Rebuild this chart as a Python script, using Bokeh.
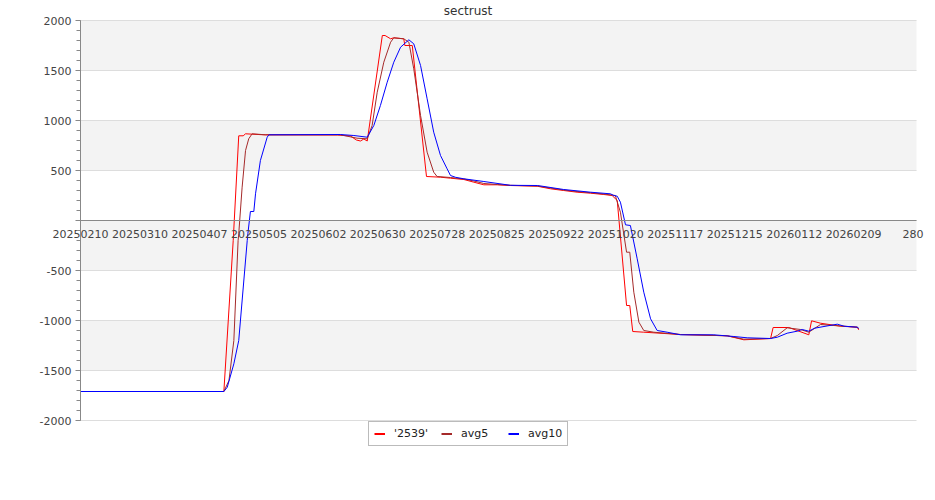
from bokeh.plotting import figure
from bokeh.models import (FixedTicker, LinearAxis, Range1d, Legend, LegendItem, Label)
from bokeh.embed import file_html
from bokeh.resources import INLINE

# ---------------- data (x = days since 2025-02-10) ----------------
tick_days = [0, 28, 56, 84, 112, 140, 168, 196, 224, 252, 280, 308, 336, 364, 392]
tick_labels = ["20250210", "20250310", "20250407", "20250505", "20250602", "20250630",
               "20250728", "20250825", "20250922", "20251020", "20251117", "20251215",
               "20260112", "20260209", "280"]
y_ticks = [-2000, -1500, -1000, -500, 0, 500, 1000, 1500, 2000]
y_tick_labels = ["-2000", "-1500", "-1000", "-500", "", "500", "1000", "1500", "2000"]
band_bottom = [1500, 500, -500, -1500]
band_top = [2000, 1000, 0, -1000]
x_end = 393.6

s2539_day = [0, 67.5, 71.9, 74.5, 76.6, 77.7, 86.3, 121.0, 127.1, 129.9, 131.8, 133.4, 135.0,
             142.1, 143.4, 146.0, 147.4, 152.2, 152.7, 156.2, 162.9, 169.5, 174.2, 180.5,
             185.2, 189.9, 196.2, 202.4, 215.0, 221.3, 227.5, 233.8, 240.1, 246.4, 250.3,
             252.7, 257.1, 258.6, 260.0, 265.2, 282.5, 304.5, 312.3, 324.9, 326.1, 333.5,
             342.9, 344.2, 348.4, 357.8, 365.7, 366.4]
s2539_val = [-1710, -1710, -200, 847, 847, 867, 857, 855, 845, 805, 795, 815, 795,
             1850, 1850, 1817, 1827, 1817, 1750, 1750, 440, 433, 423, 410,
             383, 357, 357, 350, 343, 317, 300, 283, 273, 260, 250,
             200, -850, -850, -1110, -1117, -1140, -1153, -1193, -1180, -1070, -1070,
             -1143, -1003, -1027, -1057, -1067, -1093]

avg5_day = [0, 67.5, 69.9, 72.2, 74.2, 74.5, 76.1, 77.7, 79.2, 80.8, 87.1, 122.4, 130.2, 135.0,
            137.3, 139.7, 142.8, 146.0, 147.5, 152.2, 154.6, 156.9, 160.1, 163.2, 166.3, 167.9,
            174.2, 180.5, 185.2, 189.9, 196.2, 202.4, 215.0, 221.3, 227.5, 233.8, 240.1, 246.4,
            251.8, 254.2, 257.1, 258.6, 260.5, 262.9, 265.2, 269.9, 282.5, 304.5, 312.3, 324.9,
            328.1, 332.7, 339.0, 342.9, 348.4, 354.7, 365.7, 366.4]
avg5_val = [-1710, -1710, -1600, -1200, -200, -133, 333, 700, 817, 867, 857, 857, 823, 817,
            950, 1283, 1583, 1783, 1827, 1817, 1783, 1517, 1050, 683, 483, 440,
            430, 415, 395, 370, 360, 352, 345, 325, 305, 290, 278, 265,
            250, 83, -317, -317, -717, -1017, -1100, -1117, -1140, -1153, -1187, -1180,
            -1150, -1073, -1090, -1117, -1040, -1050, -1067, -1083]

avg10_day = [0, 67.5, 69.1, 72.2, 74.5, 78.5, 78.8, 80.0, 81.6, 82.4, 84.7, 87.9, 88.7,
             122.4, 128.7, 135.0, 138.1, 141.2, 144.4, 147.5, 150.7, 154.6, 156.9, 160.1,
             163.2, 166.3, 169.5, 172.6, 174.2, 176.6, 180.5, 189.9, 202.4, 215.2, 227.5,
             240.1, 249.5, 251.1, 252.7, 254.2, 256.6, 258.9, 262.1, 265.2, 268.4, 271.5,
             276.2, 282.5, 298.2, 307.6, 313.9, 324.9, 328.1, 332.7, 337.4, 339.8, 342.9,
             345.6, 351.9, 356.3, 359.5, 365.7, 366.4]
avg10_val = [-1710, -1710, -1667, -1433, -1200, -200, -133, 90, 90, 267, 600, 833, 857,
             860, 850, 833, 950, 1150, 1383, 1583, 1733, 1807, 1767, 1550,
             1217, 883, 650, 517, 450, 432, 417, 390, 352, 350, 310,
             283, 267, 250, 243, 183, -43, -50, -383, -717, -983, -1100,
             -1117, -1143, -1143, -1160, -1173, -1180, -1167, -1127, -1107, -1090, -1107,
             -1077, -1053, -1037, -1057, -1067, -1077]

series_names = ["'2539'", "avg5", "avg10"]
series_colors = ["#ff0000", "#a52a2a", "#0000ff"]

FONT = "DejaVu Sans"
TXT = "#444444"
AX = "#888888"

W, H = 928, 490
# the frame covers the whole canvas; the ranges map the plotting area to pixels 80..916 x 20..420
PX_PER_DAY = 836 / x_end
x0 = -80 / PX_PER_DAY
x1 = (W - 80) / PX_PER_DAY
y_top = 2000 + 20 * 10
y_bot = -2000 - (H - 420) * 10

p = figure(width=W, height=H, output_backend="svg", toolbar_location=None,
           x_range=Range1d(x0, x1), y_range=Range1d(y_bot, y_top),
           x_axis_type=None, y_axis_type=None, min_border=0)
p.outline_line_color = None
p.background_fill_color = "white"
p.border_fill_color = "white"
p.grid.visible = False

# bands and grid lines of the plotting area
p.quad(left=0, right=x_end, bottom=band_bottom, top=band_top,
       fill_color="#f3f3f3", line_color=None)
p.segment(x0=0, x1=x_end, y0=y_ticks, y1=y_ticks, line_color="#dddddd", line_width=1)

yaxis = LinearAxis(fixed_location=0, bounds=(-2000, 2000),
                   ticker=FixedTicker(ticks=y_ticks, minor_ticks=list(range(-2000, 2001, 100))),
                   major_label_overrides={t: l for t, l in zip(y_ticks, y_tick_labels)})
yaxis.axis_line_color = AX
yaxis.major_tick_line_color = AX
yaxis.minor_tick_line_color = AX
yaxis.major_tick_out = 5
yaxis.major_tick_in = 0
yaxis.minor_tick_out = 4
yaxis.minor_tick_in = 0
yaxis.major_label_standoff = 4
yaxis.major_label_text_font = FONT
yaxis.major_label_text_font_size = "11px"
yaxis.major_label_text_color = TXT
p.add_layout(yaxis, "left")

xaxis = LinearAxis(fixed_location=0, bounds=(0, x_end),
                   ticker=FixedTicker(ticks=tick_days, minor_ticks=[]),
                   major_label_overrides={d: l for d, l in zip(tick_days, tick_labels)})
xaxis.axis_line_color = AX
xaxis.major_tick_line_color = None
xaxis.minor_tick_line_color = None
xaxis.major_tick_out = 0
xaxis.major_tick_in = 0
xaxis.major_label_standoff = 9
xaxis.major_label_text_font = FONT
xaxis.major_label_text_font_size = "11px"
xaxis.major_label_text_color = TXT
p.add_layout(xaxis, "below")

p.line(s2539_day, s2539_val, line_color=series_colors[0], line_width=1)
p.line(avg5_day, avg5_val, line_color=series_colors[1], line_width=1)
p.line(avg10_day, avg10_val, line_color=series_colors[2], line_width=1)

# legend keys (thicker strokes, as in the original legend); their own line lies off-canvas
keys = [p.line(x=[x0 - 50, x0 - 40], y=[0, 0], line_color=c, line_width=2) for c in series_colors]

legend = Legend(items=[LegendItem(label=n, renderers=[k]) for n, k in zip(series_names, keys)],
                orientation="horizontal", location=(368, H - 446),
                padding=5, spacing=13, margin=0, label_standoff=9, label_width=34,
                glyph_width=11, glyph_height=11, label_height=11,
                label_text_font=FONT, label_text_font_size="11px", label_text_color="#222222",
                border_line_color="#777777", border_line_width=1,
                background_fill_color="white", background_fill_alpha=1.0)
p.add_layout(legend, "center")

title = Label(x=467.5, y=H - 10, x_units="screen", y_units="screen", text="sectrust",
              text_align="center", text_baseline="alphabetic",
              text_font=FONT, text_font_size="12px", text_color="#333333")
p.add_layout(title)

open("out.html", "w").write(file_html(p, INLINE))
